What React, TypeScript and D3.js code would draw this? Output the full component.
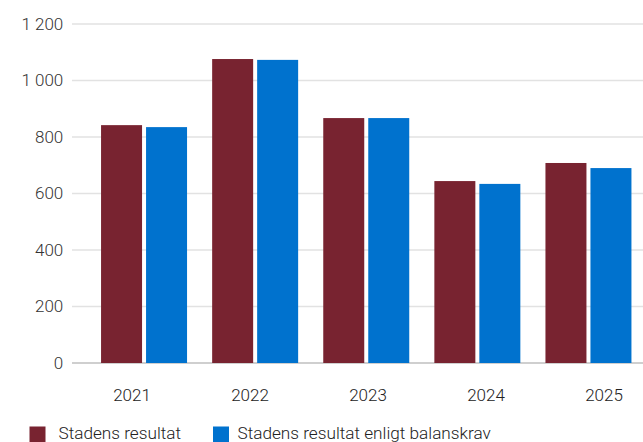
import React from "react";
import * as d3 from "d3";

const years = ["2021", "2022", "2023", "2024", "2025"];
const seriesNames = ["Stadens resultat", "Stadens resultat enligt balanskrav"];
const resultat = [842, 1076, 867, 644, 708];
const balanskrav = [835, 1073, 867, 634, 690];
const yTicks = [0, 200, 400, 600, 800, 1000, 1200];
const colors = ["#782330", "#0072CE"];

const W = 643;
const H = 442;

export default function App() {
  const y = d3.scaleLinear().domain([0, 1200]).range([363, 24]);
  const x0 = d3.scaleBand<string>().domain(years).range([88.5, 644]).paddingInner(0.226).paddingOuter(0.113);
  const x1 = d3.scaleBand<number>().domain([0, 1]).range([0, x0.bandwidth()]).paddingInner(0.089);
  const xLabel = d3.scaleBand<string>().domain(years).range([73, 663]);
  const fmt = (v: number) => d3.format(",")(v).replace(/,/g, " ");
  const series = [resultat, balanskrav];
  const font = "Roboto, 'Noto Sans', sans-serif";

  return (
    <svg width={W} height={H} style={{ position: "absolute", left: 0, top: 0, display: "block" }} fontFamily={font} fontWeight={300}>
      <rect width={W} height={H} fill="#fff" />
      {yTicks.map((t) => (
        <g key={t}>
          <line x1={72} x2={W} y1={y(t)} y2={y(t)} stroke={t === 0 ? "#cfcfcf" : "#e2e2e2"} strokeWidth={t === 0 ? 2 : 1.5} />
          <text x={63.3} y={y(t)} dy="0.35em" textAnchor="end" fontSize={17} fill="#333">
            {fmt(t)}
          </text>
        </g>
      ))}
      {years.map((yr, i) => (
        <g key={yr} transform={`translate(${x0(yr)},0)`}>
          {series.map((s, j) => (
            <rect
              key={j}
              x={x1(j)}
              y={y(s[i])}
              width={x1.bandwidth()}
              height={y(0) - y(s[i])}
              fill={colors[j]}
            />
          ))}
        </g>
      ))}
      {years.map((yr) => (
        <text key={yr} x={(xLabel(yr) as number) + xLabel.bandwidth() / 2} y={400.7} textAnchor="middle" fontSize={17} fill="#222">
          {yr}
        </text>
      ))}
      <g>
        <rect x={29.5} y={426.5} width={16} height={16} fill={colors[0]} />
        <text x={58.5} y={438.8} fontSize={17.2} fill="#222">{seriesNames[0]}</text>
        <rect x={213} y={426.5} width={16} height={16} fill={colors[1]} />
        <text x={237.5} y={438.8} fontSize={17.2} fill="#222">{seriesNames[1]}</text>
      </g>
    </svg>
  );
}
